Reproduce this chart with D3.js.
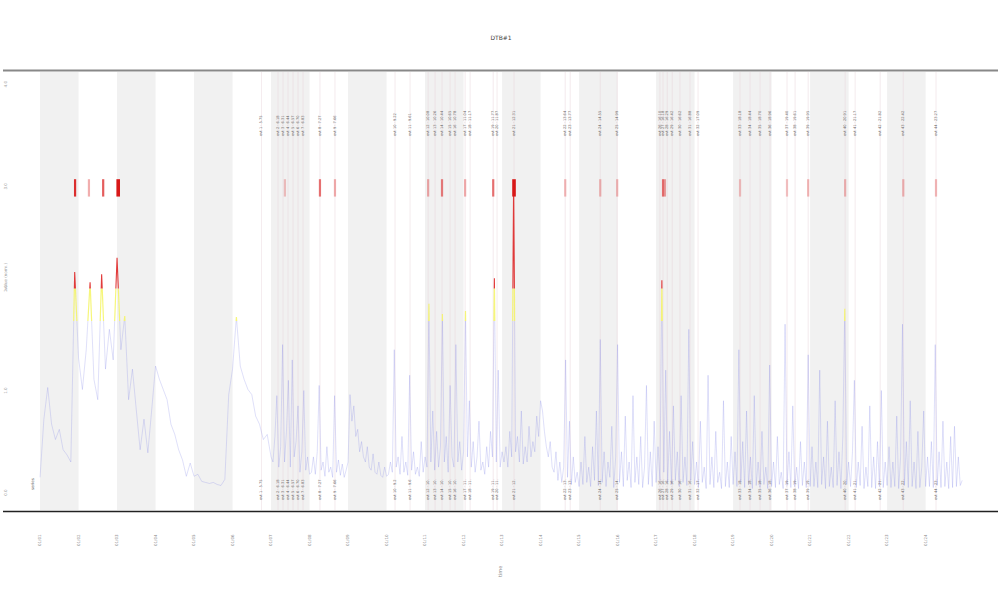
<!DOCTYPE html>
<html><head><meta charset="utf-8">
<script src="https://cdn.jsdelivr.net/npm/d3@7"></script>
<style>body{margin:0;background:#fff} text{font-family:"DejaVu Sans",sans-serif}</style>
</head><body><svg id="c" width="1000" height="600"></svg>
<script>
// ---- data ----
const chartTitle = "DTB#1";
const xAxisTitle = "time";
const yAxisTitle = "value (norm.)";
const legendText = "series";
const yTickValues = [0, 1, 2, 3, 4];
const yTickLabels = ["0.0", "1.0", "2.0", "3.0", "4.0"];
const xTickValues = d3.range(0, 24);
const xTickLabels = ["01/01","01/02","01/03","01/04","01/05","01/06","01/07","01/08","01/09","01/10","01/11","01/12",
  "01/13","01/14","01/15","01/16","01/17","01/18","01/19","01/20","01/21","01/22","01/23","01/24"];
const bandStarts = [0, 2, 4, 6, 8, 10, 12, 14, 16, 18, 20, 22];
const warnLevel = 1.68;
const alarmLevel = 2.0;
// series, first part: step 0.1 starting at 0
const earlyStart = 0, earlyStep = 0.1;
const valuesEarly = [
  0.15,0.72,1.03,0.67,0.52,0.62,0.42,0.37,0.30,2.16,
  1.32,1.01,1.40,2.06,1.11,0.91,2.14,1.21,1.60,1.30,
  2.30,1.40,1.73,0.91,1.21,0.81,0.42,0.72,0.39,0.81,
  1.24,1.11,1.01,0.91,0.67,0.57,0.42,0.32,0.16,0.29,
  0.16,0.18,0.11,0.10,0.09,0.10,0.08,0.07,0.13,0.96,
  1.21,1.72,1.24,1.11,1.01,0.96,0.75,0.67,0.52,0.57
];
// series, second part: step 0.05 starting at 6.0
const lateStart = 6.0, lateStep = 0.05;
const valuesLate = [
  0.35,
  0.30,0.55,0.95,0.25,0.45,1.45,0.30,0.60,1.10,0.25,1.30,0.35,0.50,0.85,0.20,0.40,1.00,0.22,0.35,0.18,
  0.20,0.35,0.18,0.40,1.05,0.22,0.30,0.16,0.45,0.20,0.25,0.15,0.95,0.20,0.32,0.17,0.28,0.15,0.22,0.30,
  0.96,0.70,0.85,0.55,0.62,0.40,0.50,0.35,0.30,0.45,0.25,0.22,0.38,0.20,0.18,0.30,0.17,0.15,0.25,0.16,
  0.18,0.30,0.20,1.40,0.25,0.35,0.18,0.55,0.20,0.30,0.17,1.15,0.22,0.40,0.18,0.25,0.16,0.50,0.20,0.35,
  0.25,1.85,0.30,0.80,0.22,0.60,0.25,0.45,1.75,0.30,0.55,0.20,1.05,0.35,0.25,1.45,0.30,0.50,0.22,0.40,
  1.78,0.35,0.90,0.25,0.50,0.20,0.35,0.70,0.22,0.30,0.18,0.45,0.25,0.60,0.35,2.10,0.30,1.20,0.25,0.40,
  0.30,0.45,0.25,0.60,0.35,3.05,0.40,0.55,0.30,0.80,0.28,0.45,0.30,0.65,0.35,0.50,0.40,0.75,0.55,0.90,
  0.80,0.60,0.45,0.35,0.50,0.25,0.20,0.40,0.12,0.30,0.10,0.25,1.30,0.15,0.70,0.08,0.35,0.10,0.20,0.06,
  0.30,0.08,0.55,0.10,0.25,0.06,0.45,0.12,0.80,0.07,1.50,0.10,0.40,0.06,0.30,0.15,0.65,0.05,0.35,1.45,
  0.10,0.40,0.06,0.75,0.12,0.30,0.05,0.95,0.10,0.35,0.08,0.55,0.05,0.25,1.05,0.08,0.40,0.06,0.70,0.10,
  0.45,0.12,2.08,0.20,1.20,0.10,0.60,0.08,0.85,0.12,0.40,0.06,0.95,0.10,0.35,0.07,1.60,0.12,0.50,0.08,
  0.30,0.05,0.70,0.10,0.25,0.04,1.15,0.08,0.35,0.05,0.60,0.10,0.20,0.04,0.90,0.06,0.30,0.05,0.55,0.08,
  0.40,0.06,1.40,0.10,0.50,0.05,0.80,0.08,0.35,0.04,0.95,0.07,0.30,0.05,0.60,0.08,0.25,0.04,1.25,0.06,
  0.30,0.05,0.55,0.08,0.20,0.04,1.65,0.07,0.40,0.05,0.85,0.06,0.25,0.04,0.50,0.07,0.30,0.05,1.35,0.06,
  0.45,0.06,0.30,0.05,1.20,0.08,0.35,0.04,0.70,0.06,0.25,0.05,0.90,0.07,0.40,0.04,0.55,1.80,0.08,0.30,
  0.06,0.40,1.10,0.05,0.30,0.07,0.65,0.04,0.25,0.06,0.85,0.05,0.35,0.04,0.50,0.06,1.00,0.05,0.30,0.07,
  0.45,0.05,0.30,0.06,0.75,0.04,0.35,1.65,0.07,0.50,0.05,0.90,0.06,0.30,0.04,0.60,0.05,0.25,0.80,0.06,
  0.35,0.06,0.50,0.05,1.45,0.07,0.40,0.05,0.70,0.06,0.30,0.04,0.55,0.05,0.65,0.06,0.35,0.07,0.12
];
// event times (vertical lines + annotations)
const eventTimes = [5.75,6.18,6.31,6.44,6.57,6.70,6.83,7.27,7.66,9.22,9.61,10.08,10.26,10.44,10.65,10.78,
  11.04,11.17,11.77,11.87,12.31,13.64,13.77,14.55,14.99,16.10,16.18,16.29,16.42,16.62,16.88,17.09,
  18.18,18.44,18.70,18.96,19.40,19.61,19.95,20.91,21.17,21.82,22.42,23.27];
const eventLabels = eventTimes.map((t, i) => "evt " + (i + 1) + " · " + t.toFixed(2));
// alarm markers
const markerTimes = [0.91,1.27,1.64,2.03,6.36,7.27,7.66,10.08,10.44,11.04,11.77,12.31,13.64,14.55,14.99,16.18,16.23,18.18,19.40,19.95,20.91,22.42,23.27];
const markerStrength = [0.9,0.35,0.7,1.0,0.25,0.6,0.35,0.35,0.55,0.35,0.6,1.0,0.3,0.3,0.3,0.6,0.4,0.25,0.25,0.3,0.3,0.3,0.3];

// ---- drawing ----
const svg = d3.select("#c");
const x = d3.scaleLinear().domain([-0.91, 24.88]).range([5, 998]);
const y = d3.scaleLinear().domain([-0.17, 4.12]).range([510, 72]);
const yTop = 72, yBot = 510;

const pts = valuesEarly.map((v, i) => [earlyStart + i * earlyStep, v])
  .concat(valuesLate.map((v, i) => [lateStart + i * lateStep, v]));

// bands
svg.append("g").selectAll("rect").data(bandStarts).join("rect")
  .attr("x", d => x(d)).attr("width", d => x(d + 1) - x(d))
  .attr("y", yTop).attr("height", yBot - yTop).attr("fill", "#f1f1f1");

// event lines
svg.append("g").selectAll("line").data(eventTimes).join("line")
  .attr("x1", d => x(d)).attr("x2", d => x(d)).attr("y1", yTop).attr("y2", yBot)
  .attr("stroke", "#ead6dc").attr("stroke-width", 0.8).attr("opacity", 0.6);

// clip paths
const defs = svg.append("defs");
defs.append("clipPath").attr("id", "cBlue").append("rect")
  .attr("x", 0).attr("width", 1000).attr("y", y(warnLevel)).attr("height", yBot - y(warnLevel));
defs.append("clipPath").attr("id", "cYel").append("rect")
  .attr("x", 0).attr("width", 1000).attr("y", y(alarmLevel)).attr("height", y(warnLevel) - y(alarmLevel));
defs.append("clipPath").attr("id", "cRed").append("rect")
  .attr("x", 0).attr("width", 1000).attr("y", yTop).attr("height", y(alarmLevel) - yTop);

const line = d3.line().x(d => x(d[0])).y(d => y(d[1]));
svg.append("path").datum(pts).attr("d", line).attr("fill", "none")
  .attr("stroke", "#7b80e8").attr("stroke-width", 0.7).attr("opacity", 0.35).attr("clip-path", "url(#cBlue)");
svg.append("path").datum(pts).attr("d", line).attr("fill", "none")
  .attr("stroke", "#f4f45a").attr("stroke-width", 1.2).attr("opacity", 0.8).attr("clip-path", "url(#cYel)");
svg.append("path").datum(pts).attr("d", line).attr("fill", "none")
  .attr("stroke", "#dd1a1a").attr("stroke-width", 1.1).attr("opacity", 0.85).attr("clip-path", "url(#cRed)");

// markers
svg.append("g").selectAll("rect").data(markerTimes).join("rect")
  .attr("x", (d, i) => x(d) - (markerStrength[i] >= 1 ? 1.8 : 1.1))
  .attr("width", (d, i) => markerStrength[i] >= 1 ? 3.6 : 2.2)
  .attr("y", y(3.07)).attr("height", y(2.9) - y(3.07))
  .attr("fill", "#d81818").attr("opacity", (d, i) => markerStrength[i]);

// annotations top & bottom
const ann = svg.append("g").attr("fill", "#666").attr("font-size", 3.6);
eventTimes.forEach((t, i) => {
  ann.append("text").attr("transform", `translate(${x(t) + 1},136) rotate(-90)`).text(eventLabels[i]);
  ann.append("text").attr("transform", `translate(${x(t) + 1},500) rotate(-90)`).text(eventLabels[i].slice(0, 12));
});

// frame lines
svg.append("line").attr("x1", 3).attr("x2", 998).attr("y1", 70.5).attr("y2", 70.5).attr("stroke", "#888").attr("stroke-width", 2);
svg.append("line").attr("x1", 3).attr("x2", 998).attr("y1", 511.5).attr("y2", 511.5).attr("stroke", "#222").attr("stroke-width", 1.5);

// y ticks
svg.append("g").attr("fill", "#999").attr("font-size", 4).selectAll("text").data(yTickValues).join("text")
  .attr("transform", d => `translate(7,${y(d)}) rotate(-90)`).attr("text-anchor", "middle")
  .text((d, i) => yTickLabels[i]);
svg.append("text").attr("transform", `translate(7,${y(2) - 12}) rotate(-90)`).attr("text-anchor", "middle")
  .attr("font-size", 4).attr("fill", "#999").text(yAxisTitle);

// x ticks
svg.append("g").attr("fill", "#888").attr("font-size", 4).selectAll("text").data(xTickValues).join("text")
  .attr("transform", d => `translate(${x(d) + 1.3},546) rotate(-90)`).text((d, i) => xTickLabels[i]);
svg.append("text").attr("transform", `translate(502,577) rotate(-90)`).attr("font-size", 5).attr("fill", "#888").text(xAxisTitle);

// title & legend
svg.append("text").attr("x", 501).attr("y", 40).attr("text-anchor", "middle").attr("font-size", 6)
  .attr("fill", "#444").text(chartTitle);
svg.append("text").attr("transform", `translate(34,490) rotate(-90)`).attr("font-size", 4)
  .attr("fill", "#666").text(legendText);
</script></body></html>
